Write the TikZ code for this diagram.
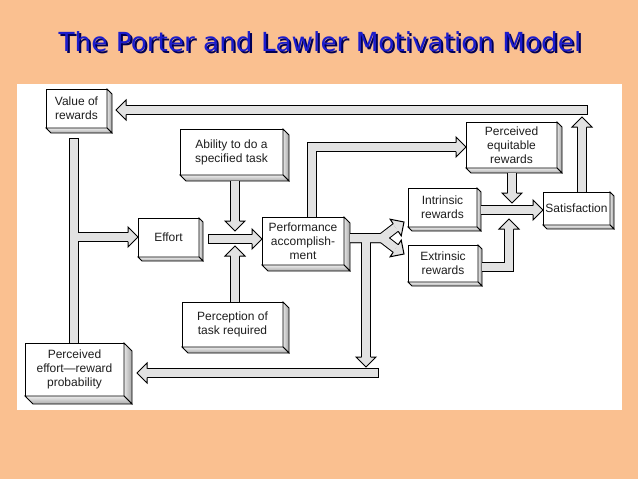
\documentclass[tikz,border=0pt]{standalone}
\usepackage{fontspec}
\setmainfont{Liberation Sans}
\newfontfamily\titlefont{DejaVu Sans}
\usetikzlibrary{calc}
\definecolor{peach}{RGB}{250,192,144}
\definecolor{tblue}{RGB}{28,28,205}
\definecolor{tshadow}{RGB}{0,0,85}
\definecolor{shaftfill}{RGB}{226,226,226}
\definecolor{boxtext}{RGB}{30,30,30}
\tikzset{
  box/.style={draw=black, line width=0.75pt, fill=white, outer sep=0pt, inner sep=1pt,
    align=center, anchor=north west, text=boxtext, font=\fontsize{9}{10.6}\selectfont},
  side/.style={draw=black, line width=0.6pt, line join=miter},
  shaftout/.style={line width=7.5pt, draw=black, line join=miter},
  shaftin/.style={line width=6pt, draw=shaftfill, line join=miter},
  headline/.style={draw=black, line width=0.75pt, line join=miter},
  titletext/.style={font=\titlefont\fontsize{19.7}{22}\selectfont},
}
\newcommand\mybox[7]{%
  \node[box, minimum width={(#4-#2)*0.75pt}, minimum height={(#5-#3)*0.75pt}] (#1) at (#2,#3) {#7};
  \path[side, left color=gray!20, right color=gray!70]
    (#1.north east) -- ++(#6,#6) -- ($(#1.south east)+(#6,#6)$) -- (#1.south east) -- cycle;
  \path[side, top color=gray!15, bottom color=gray!65]
    (#1.south west) -- ++(#6,#6) -- ($(#1.south east)+(#6,#6)$) -- (#1.south east) -- cycle;
}
\newcommand\myhead[2]{%
  \begin{scope}[shift={#1}, rotate=#2]
    \fill[shaftfill] (0,0) -- (-10,-10) -- (-10,10) -- cycle;
    \draw[headline] (-10,-4.5) -- (-10,-10) -- (0,0) -- (-10,10) -- (-10,4.5);
  \end{scope}}
\newcommand\myshafts[1]{%
  % Satisfaction -> top feedback bar -> Value of rewards
  \draw[#1] (582,0 |- sat.north) -- (582,127);
  \draw[#1] (587,110) -- (126,110);
  % Value of rewards -- Perceived effort, branch to Effort
  \draw[#1] (74,138) -- (74,0 |- pere.north);
  \draw[#1] (74,237) -- (128,237);
  % Effort -> Performance
  \draw[#1] (208,239) -- (252,239);
  \draw[#1] (235,181) -- (235,221);
  \draw[#1] (235,0 |- perc.north) -- (235,256);
  % Performance -> Perceived equitable rewards
  \draw[#1] (312,0 |- perf.north) -- (312,147) -- (456,147);
  % Performance -> rewards fork and down
  \draw[#1] (350,238) -- (382,238) -- (395.7,227.5);
  \draw[#1] (350,238) -- (382,238) -- (395.7,248.5);
  \draw[#1] (366,238) -- (366,357);
  \draw[#1] (378,373) -- (147,373);
  % rewards -> Satisfaction
  \draw[#1] (512,173) -- (512,193);
  \draw[#1] (481,210) -- (533,210);
  \draw[#1] (482,267) -- (509,267) -- (509,229);
}
\begin{document}
\begin{tikzpicture}[x=0.75pt,y=-0.75pt]
\fill[peach] (0,0) rectangle (638,479);
\useasboundingbox (0,0) rectangle (638,479);
\fill[white] (17,84) rectangle (622,410);
\node[titletext, text=tshadow] (titleshadow) at (322,44) {The Porter and Lawler Motivation Model};
\node[titletext, text=tblue] (title) at (320,42) {The Porter and Lawler Motivation Model};

\mybox{val}{46}{89}{107}{128}{5}{Value of\\rewards}
\mybox{abil}{180}{129}{283}{175}{6}{Ability to do a\\specified task}
\mybox{eff}{138}{218}{199}{257}{4}{Effort}
\mybox{perf}{262}{217}{344}{265}{6}{Performance\\accomplish-\\ment}
\mybox{perc}{182}{302}{283}{347}{6}{Perception of\\task required}
\mybox{pere}{25}{343}{124}{396}{8}{Perceived\\effort---reward\\probability}
\mybox{equi}{466}{122}{557}{168}{5}{Perceived\\equitable\\rewards}
\mybox{intr}{408}{188}{477}{227}{4}{Intrinsic\\rewards}
\mybox{extr}{408}{245}{478}{282}{4}{Extrinsic\\rewards}
\mybox{sat}{543}{192}{610}{225}{4}{Satisfaction}

\myshafts{shaftout}
\myshafts{shaftin}

% closed shaft ends
\draw[headline] (587,105) -- (587,115);
\draw[headline] (69,138) -- (79,138);
\draw[headline] (208,234) -- (208,244);
\draw[headline] (378,368) -- (378,378);

% arrow heads
\myhead{(582,117)}{90}
\myhead{($(val.east |- 0,110)+(9,0)$)}{180}
\myhead{(eff.west |- 0,237)}{0}
\myhead{(perf.west |- 0,239)}{0}
\myhead{(235,231)}{-90}
\myhead{(235,246)}{90}
\myhead{(equi.west |- 0,147)}{0}
\myhead{(404,222)}{33.7}
\myhead{(404,254)}{-33.7}
\myhead{(366,367)}{-90}
\myhead{(137,373)}{180}
\myhead{(512,203)}{-90}
\myhead{(sat.west |- 0,210)}{0}
\myhead{(509,219)}{90}
\end{tikzpicture}
\end{document}
